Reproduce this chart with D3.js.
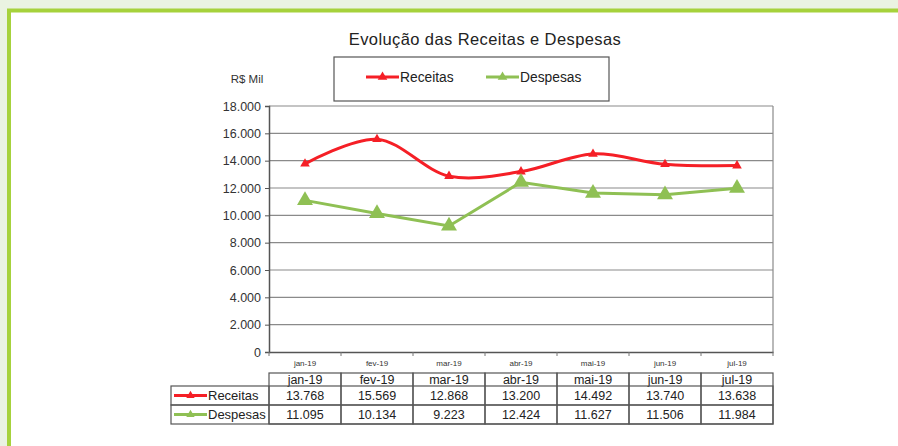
<!DOCTYPE html>
<html lang="pt">
<head>
    <meta charset="UTF-8">
    <title>Evolução das Receitas e Despesas</title>
    <style>
        body { margin: 0; background: #eaf3e2; }
        svg { display: block; font-family: "Liberation Sans", Arial, sans-serif; }
    </style>
</head>
<body>
<script src="https://d3js.org/d3.v7.min.js"></script>
<script>
    var months = ['jan-19', 'fev-19', 'mar-19', 'abr-19', 'mai-19', 'jun-19', 'jul-19'];
    var receitas = [13768, 15569, 12868, 13200, 14492, 13740, 13638];
    var despesas = [11095, 10134, 9223, 12424, 11627, 11506, 11984];
    var yTicks = [0, 2000, 4000, 6000, 8000, 10000, 12000, 14000, 16000, 18000];

    var width = 898, height = 446,
        plotL = 269, plotR = 773, plotT = 106, plotB = 352,
        red = '#f51f26', green = '#8fc054';

    var ptBR = d3.formatLocale({decimal: ',', thousands: '.', grouping: [3], currency: ['R$', '']});
    var fmt = ptBR.format(',d');

    var svg = d3.select('body').append('svg')
                .attr('width', width)
                .attr('height', height);

    // green frame
    svg.append('rect')
       .attr('x', 9).attr('y', 10.5)
       .attr('width', width).attr('height', height)
       .attr('fill', '#fff')
       .attr('stroke', '#a6d23c')
       .attr('stroke-width', 4);

    svg.append('text')
       .attr('x', 485).attr('y', 45)
       .attr('text-anchor', 'middle')
       .attr('font-size', 16.5)
       .attr('letter-spacing', 0.4)
       .attr('fill', '#222')
       .text('Evolução das Receitas e Despesas');

    svg.append('text')
       .attr('x', 247).attr('y', 83)
       .attr('text-anchor', 'middle')
       .attr('font-size', 11.5)
       .attr('fill', '#333')
       .text('R$ Mil');

    var x = d3.scaleBand().domain(months).range([plotL, plotR]);
    var y = d3.scaleLinear().domain([0, 18000]).range([plotB, plotT]);

    // grid
    svg.append('g').selectAll('line')
       .data(yTicks.slice(1))
       .enter().append('line')
       .attr('x1', plotL).attr('x2', plotR)
       .attr('y1', function(d) { return y(d); })
       .attr('y2', function(d) { return y(d); })
       .attr('stroke', '#8a8a8a')
       .attr('stroke-width', 1.2);

    svg.append('line')
       .attr('x1', plotR).attr('x2', plotR)
       .attr('y1', plotT).attr('y2', plotB)
       .attr('stroke', '#8a8a8a').attr('stroke-width', 1.2);

    var yAxis = d3.axisLeft(y).tickValues(yTicks).tickFormat(fmt).tickSize(4).tickPadding(4);
    var gy = svg.append('g')
       .attr('transform', 'translate(' + plotL + ',0)')
       .call(yAxis);
    gy.select('.domain').attr('stroke', '#555').attr('stroke-width', 1.5);
    gy.selectAll('.tick line').attr('stroke', '#555');
    gy.selectAll('text').attr('font-size', 12.5).attr('fill', '#333')
      .attr('font-family', '"Liberation Sans", Arial, sans-serif');

    var xAxis = d3.axisBottom(x).tickSize(0).tickPadding(8);
    var gx = svg.append('g')
       .attr('transform', 'translate(0,' + plotB + ')')
       .call(xAxis);
    gx.select('.domain').attr('stroke', '#555').attr('stroke-width', 1.5);
    gx.selectAll('text').attr('font-size', 8).attr('fill', '#333')
      .attr('font-family', '"Liberation Sans", Arial, sans-serif');
    gx.selectAll('.bnd').data(months.concat(['end']))
      .enter().append('line')
      .attr('x1', function(d, i) { return plotL + i * x.bandwidth(); })
      .attr('x2', function(d, i) { return plotL + i * x.bandwidth(); })
      .attr('y1', 0).attr('y2', 4)
      .attr('stroke', '#777');

    function cx(d, i) { return x(months[i]) + x.bandwidth() / 2; }

    var smooth = d3.line().x(cx).y(function(d) { return y(d); }).curve(d3.curveCatmullRom.alpha(0.5));
    var straight = d3.line().x(cx).y(function(d) { return y(d); });

    svg.append('path')
       .attr('d', smooth(receitas))
       .attr('fill', 'none').attr('stroke', red).attr('stroke-width', 3);
    svg.append('path')
       .attr('d', straight(despesas))
       .attr('fill', 'none').attr('stroke', green).attr('stroke-width', 3);

    var triSmall = d3.symbol().type(d3.symbolTriangle).size(40);
    var triBig = d3.symbol().type(d3.symbolTriangle).size(110);

    svg.append('g').selectAll('path')
       .data(receitas).enter().append('path')
       .attr('d', triSmall)
       .attr('transform', function(d, i) { return 'translate(' + cx(d, i) + ',' + y(d) + ')'; })
       .attr('fill', red);
    svg.append('g').selectAll('path')
       .data(despesas).enter().append('path')
       .attr('d', triBig)
       .attr('transform', function(d, i) { return 'translate(' + cx(d, i) + ',' + y(d) + ')'; })
       .attr('fill', green);

    // legend box
    var lg = svg.append('g');
    lg.append('rect')
      .attr('x', 334).attr('y', 57).attr('width', 275).attr('height', 44)
      .attr('fill', '#fff').attr('stroke', '#555').attr('stroke-width', 1.2);
    var items = [{name: 'Receitas', color: red, x: 366},
                 {name: 'Despesas', color: green, x: 486}];
    items.forEach(function(it) {
        lg.append('line')
          .attr('x1', it.x).attr('x2', it.x + 33)
          .attr('y1', 77).attr('y2', 77)
          .attr('stroke', it.color).attr('stroke-width', 3);
        lg.append('path').attr('d', triSmall)
          .attr('transform', 'translate(' + (it.x + 16.5) + ',77)')
          .attr('fill', it.color);
        lg.append('text')
          .attr('x', it.x + 34).attr('y', 82)
          .attr('font-size', 13.8).attr('fill', '#222')
          .text(it.name);
    });

    // data table
    var tb = svg.append('g');
    var rowTop = 373, hdrH = 13, rowH = 19, legL = 171;
    var tableRows = [{name: 'Receitas', color: red, vals: receitas},
                     {name: 'Despesas', color: green, vals: despesas}];

    months.forEach(function(m, i) {
        var x0 = x(m);
        tb.append('rect')
          .attr('x', x0).attr('y', rowTop)
          .attr('width', x.bandwidth()).attr('height', hdrH + 2 * rowH)
          .attr('fill', 'none').attr('stroke', '#555').attr('stroke-width', 1.2);
        tb.append('text')
          .attr('x', x0 + x.bandwidth() / 2).attr('y', rowTop + 11)
          .attr('text-anchor', 'middle').attr('font-size', 12.5).attr('fill', '#222')
          .text(m);
    });

    tableRows.forEach(function(r, k) {
        var ry = rowTop + hdrH + k * rowH;
        tb.append('rect')
          .attr('x', legL).attr('y', ry)
          .attr('width', plotR - legL).attr('height', rowH)
          .attr('fill', 'none').attr('stroke', '#555').attr('stroke-width', 1.2);
        tb.append('line')
          .attr('x1', legL + 3).attr('x2', legL + 36)
          .attr('y1', ry + rowH / 2).attr('y2', ry + rowH / 2)
          .attr('stroke', r.color).attr('stroke-width', 3);
        tb.append('path').attr('d', d3.symbol().type(d3.symbolTriangle).size(30))
          .attr('transform', 'translate(' + (legL + 19.5) + ',' + (ry + rowH / 2) + ')')
          .attr('fill', r.color);
        tb.append('text')
          .attr('x', legL + 37).attr('y', ry + 14)
          .attr('font-size', 13).attr('fill', '#222')
          .text(r.name);
        r.vals.forEach(function(v, i) {
            tb.append('text')
              .attr('x', x(months[i]) + x.bandwidth() / 2).attr('y', ry + 14)
              .attr('text-anchor', 'middle').attr('font-size', 12.5).attr('fill', '#222')
              .text(fmt(v));
        });
    });
    tb.append('line')
      .attr('x1', plotL).attr('x2', plotL)
      .attr('y1', rowTop + hdrH).attr('y2', rowTop + hdrH + 2 * rowH)
      .attr('stroke', '#555').attr('stroke-width', 1.2);
</script>
</body>
</html>
